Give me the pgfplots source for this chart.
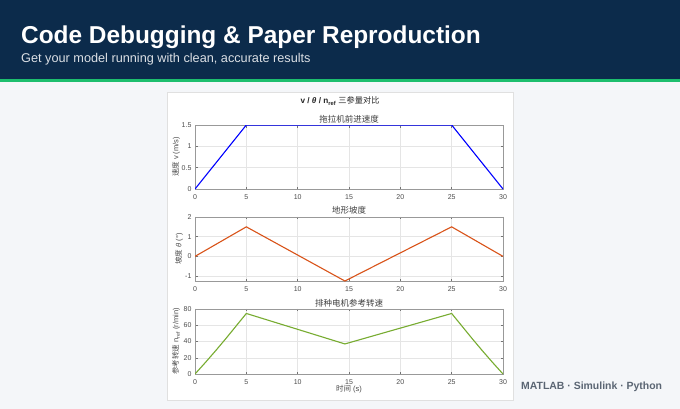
\documentclass[border=0pt]{standalone}
\usepackage{pgfplots}
\pgfplotsset{compat=1.18}
\usepackage{fontspec}
\setmainfont{Liberation Sans}
\newfontfamily\cjk{Noto Sans CJK SC}
\definecolor{navy}{HTML}{0C2B4B}
\definecolor{accent}{HTML}{1DBE6E}
\definecolor{bg}{HTML}{F4F6F9}
\definecolor{mblue}{HTML}{0000FF}
\definecolor{morange}{HTML}{D95319}
\definecolor{mgreen}{HTML}{77AC30}
\definecolor{foot}{HTML}{5A6573}
\pgfplotsset{
 mstyle/.style={
  scale only axis, width=308pt, height=64pt,
  xmin=0, xmax=30, xtick={0,5,...,30},
  grid=major, grid style={black!10, line width=0.4pt},
  axis line style={black!40, line width=0.5pt},
  tick style={black!55, line width=0.4pt}, tick align=inside, major tick length=2.5pt,
  tick label style={font=\fontsize{7}{8}\selectfont, text=black!70},
  xticklabel style={yshift=-2pt},
  /pgf/number format/assume math mode=true,
  every axis title/.style={font=\cjk\fontsize{8.5}{10}\selectfont, text=black!75, anchor=base, at={(0.5,1)}, yshift=3pt, inner sep=0pt},
  every axis y label/.style={font=\fontsize{7.5}{9}\selectfont, text=black!70, at={(axis description cs:-0.0617,0.5)}, anchor=center, rotate=90},
  every axis x label/.style={font=\fontsize{7.5}{9}\selectfont, text=black!70, at={(axis description cs:0.5,-0.23)}, anchor=center},
  every axis plot/.append style={line width=1.1pt, mark=none},
 }
}
\begin{document}
\begin{tikzpicture}
\fill[bg] (0pt,0pt) rectangle (680pt,-409pt);
\fill[navy] (0pt,0pt) rectangle (680pt,-79pt);
\fill[accent] (0pt,-79pt) rectangle (680pt,-82.5pt);
\filldraw[fill=white, draw=black!12, line width=0.5pt] (167.5pt,-92pt) rectangle (513pt,-400pt);
\node[anchor=base west, text=white, font=\bfseries\fontsize{24.4}{28}\selectfont, inner sep=0pt] at (21pt,-44pt) {Code Debugging \& Paper Reproduction};
\node[anchor=base west, text=white!85!navy, font=\fontsize{12.7}{15}\selectfont, inner sep=0pt] at (21pt,-63pt) {Get your model running with clean, accurate results};
\node[anchor=base west, text=foot, font=\bfseries\fontsize{10.45}{12}\selectfont, inner sep=0pt] at (521pt,-389pt) {MATLAB · Simulink · Python};
\node[anchor=base, text=black!85, font=\fontsize{8.2}{10}\selectfont, inner sep=0pt] at (340pt,-104pt) {\textbf{v / \textit{θ} / n\textsubscript{ref}} {\cjk 三参量对比}};

\begin{axis}[mstyle, at={(195pt,-189pt)}, anchor=south west,
  ymin=0, ymax=1.5, ytick={0,0.5,1,1.5},
  title={拖拉机前进速度},
  ylabel={{\cjk 速度} v (m/s)}]
\addplot[color=mblue] coordinates {(0,0) (5,1.5) (25,1.5) (30,0)};
\end{axis}

\begin{axis}[mstyle, at={(195pt,-281pt)}, anchor=south west,
  ymin=-1.25, ymax=2, ytick={-1,0,1,2},
  title={地形坡度},
  ylabel style={at={(axis description cs:-0.052,0.5)}},
  ylabel={{\cjk 坡度} \textit{θ} (°)}]
\addplot[color=morange] coordinates {(0,0) (5,1.5) (14.6,-1.25) (25,1.5) (30,0)};
\end{axis}

\begin{axis}[mstyle, at={(195pt,-374pt)}, anchor=south west, height=65pt,
  ymin=0, ymax=80, ytick={0,20,40,60,80},
  title={排种电机参考转速},
  ylabel={{\cjk 参考转速} n\textsubscript{ref} (r/min)},
  xlabel={{\cjk 时间} (s)}]
\addplot[color=mgreen] coordinates {(0,0) (1,14) (2,28.5) (3,43.5) (4,59) (5,74.5) (14.6,37) (25,74.5) (26,59) (27,43.5) (28,28.5) (29,14) (30,0)};
\end{axis}
\end{tikzpicture}
\end{document}
